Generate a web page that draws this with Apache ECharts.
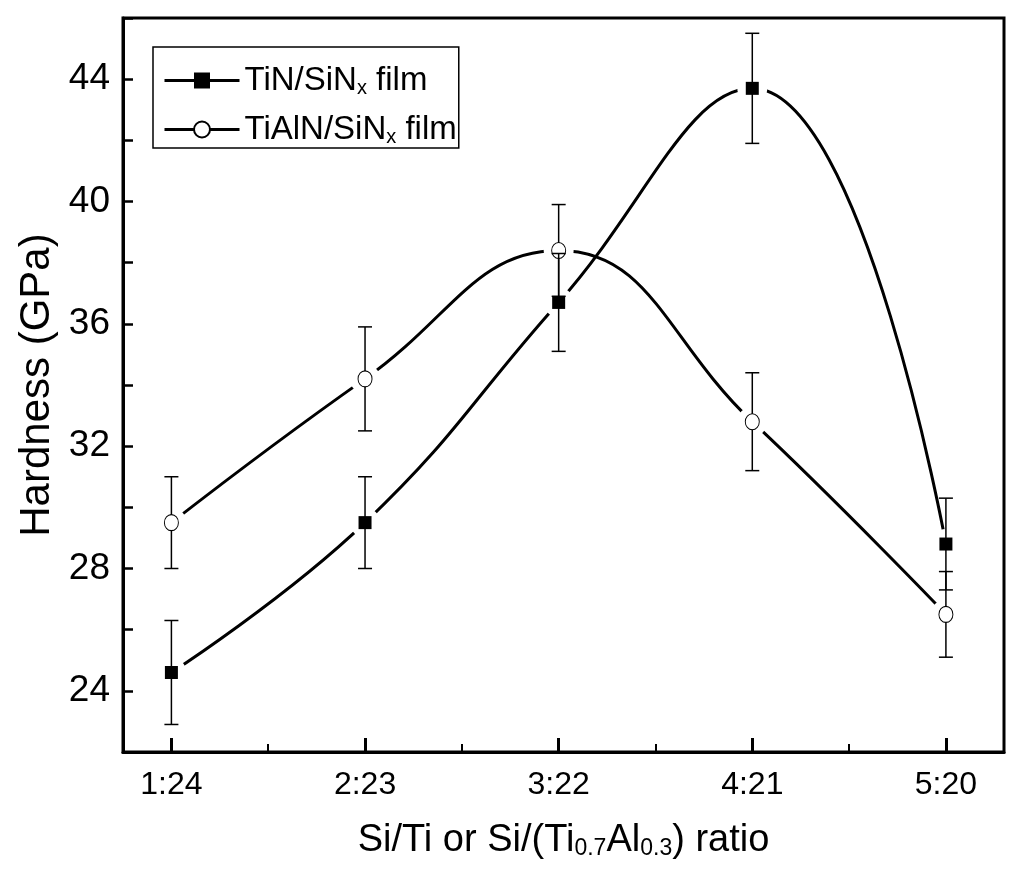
<!DOCTYPE html>
<html>
<head>
<meta charset="utf-8">
<script src="https://cdn.jsdelivr.net/npm/echarts@6/dist/echarts.min.js"></script>
<style>
html,body{margin:0;padding:0;background:#fff;}
#chart{width:1018px;height:869px;}
</style>
</head>
<body>
<div id="chart"></div>
<script>
// ---- data ----
const categories = ['1:24', '2:23', '3:22', '4:21', '5:20'];
const tinHardness = [24.6, 29.5, 36.7, 43.7, 28.8];
const tinError = [1.7, 1.5, 1.6, 1.8, 1.5];
const tialnHardness = [29.5, 34.2, 38.4, 32.8, 26.5];
const tialnError = [1.5, 1.7, 1.5, 1.6, 1.4];
const yTickLabels = [24, 28, 32, 36, 40, 44];
const seriesNames = ['TiN/SiNx film', 'TiAlN/SiNx film'];

const FONT = '"Liberation Sans", Arial, sans-serif';

const xs = categories.map((c, i) => i + 1);
const pts = (vals) => vals.map((v, i) => [xs[i], v]);
const errs = (vals, e) => vals.map((v, i) => [xs[i], v - e[i], v + e[i]]);
const minorX = xs.slice(0, -1).map(x => x + 0.5);

function errRender(params, api) {
  const x = api.value(0);
  const top = api.coord([x, api.value(2)]);
  const bot = api.coord([x, api.value(1)]);
  const hw = 7;
  const st = { stroke: '#000', lineWidth: 1.5 };
  return {
    type: 'group',
    children: [
      { type: 'line', shape: { x1: top[0], y1: top[1], x2: bot[0], y2: bot[1] }, style: st },
      { type: 'line', shape: { x1: top[0] - hw, y1: top[1], x2: top[0] + hw, y2: top[1] }, style: st },
      { type: 'line', shape: { x1: bot[0] - hw, y1: bot[1], x2: bot[0] + hw, y2: bot[1] }, style: st }
    ]
  };
}
// white gap around each marker (the curve is interrupted there)
function haloRender(r) {
  return function (params, api) {
    const p = api.coord([api.value(0), api.value(1)]);
    return { type: 'circle', shape: { cx: p[0], cy: p[1], r: r }, style: { fill: '#fff' } };
  };
}

const chart = echarts.init(document.getElementById('chart'), null, { renderer: 'canvas' });
const option = {
  backgroundColor: '#fff',
  animation: false,
  grid: {
    left: 123, right: 14, top: 18, bottom: 117,
    show: true, borderColor: '#000', borderWidth: 3, backgroundColor: 'transparent'
  },
  legend: {
    orient: 'vertical',
    left: 153, top: 47,
    padding: [16, 2, 1, 10],
    itemGap: 14,
    itemWidth: 75, itemHeight: 20,
    backgroundColor: '#fff',
    borderColor: '#000', borderWidth: 1.5, borderRadius: 0,
    data: seriesNames,
    lineStyle: { width: 3, color: '#000' },
    formatter: function (name) {
      return name.replace('SiNx', 'SiN{sub|x}');
    },
    textStyle: {
      fontFamily: FONT, fontSize: 33, color: '#000', lineHeight: 35,
      rich: { sub: { fontFamily: FONT, fontSize: 20, color: '#000', verticalAlign: 'bottom', lineHeight: 30 } }
    }
  },
  xAxis: [{
    type: 'value', min: 0.75, max: 5.3,
    position: 'bottom',
    axisLine: { show: true, lineStyle: { color: '#000', width: 3 } },
    axisTick: { show: true, inside: true, length: 14, lineStyle: { color: '#000', width: 3 }, customValues: xs },
    axisLabel: {
      customValues: xs, margin: 17, color: '#000', fontFamily: FONT, fontSize: 32,
      formatter: v => categories[Math.round(v) - 1] || ''
    },
    splitLine: { show: false },
    name: 'Si/Ti or Si/(Ti{sub|0.7}Al{sub|0.3}) ratio',
    nameLocation: 'middle', nameGap: 70,
    nameTextStyle: {
      fontFamily: FONT, fontSize: 38, color: '#000',
      rich: { sub: { fontFamily: FONT, fontSize: 23, color: '#000', verticalAlign: 'bottom', lineHeight: 37 } }
    }
  }, {
    type: 'value', min: 0.75, max: 5.3,
    position: 'bottom',
    axisLine: { show: false },
    axisTick: { show: true, inside: true, length: 8, lineStyle: { color: '#000', width: 2 }, customValues: minorX },
    axisLabel: { show: false },
    splitLine: { show: false }
  }],
  yAxis: {
    type: 'value', min: 22, max: 46, interval: 2,
    axisLine: { show: true, lineStyle: { color: '#000', width: 3 } },
    axisTick: { show: true, inside: true, length: 10, lineStyle: { color: '#000', width: 2.5 } },
    axisLabel: {
      margin: 13, color: '#000', fontFamily: FONT, fontSize: 37,
      formatter: v => (yTickLabels.indexOf(v) >= 0 ? String(v) : '')
    },
    splitLine: { show: false },
    name: 'Hardness (GPa)',
    nameLocation: 'middle', nameGap: 62, nameRotate: 90,
    nameTextStyle: { fontFamily: FONT, fontSize: 42, color: '#000' }
  },
  series: [
    {
      name: seriesNames[0], type: 'line', data: pts(tinHardness), smooth: 0.45,
      symbol: 'rect', symbolSize: 14, showSymbol: false, z: 1,
      lineStyle: { color: '#000', width: 3 }, itemStyle: { color: '#000' }
    },
    {
      name: seriesNames[1], type: 'line', data: pts(tialnHardness), smooth: 0.45,
      symbol: 'emptyCircle', symbolSize: 14, showSymbol: false, z: 1,
      lineStyle: { color: '#000', width: 3 }, itemStyle: { color: '#000', borderColor: '#000', borderWidth: 1 }
    },
    { type: 'custom', data: pts(tinHardness), renderItem: haloRender(15), z: 3, silent: true },
    { type: 'custom', data: pts(tialnHardness), renderItem: haloRender(15), z: 3, silent: true },
    { type: 'custom', data: errs(tialnHardness, tialnError), renderItem: errRender, z: 4, silent: true },
    {
      type: 'scatter', data: pts(tialnHardness), symbol: 'circle', symbolSize: [14, 16], z: 5, silent: true,
      itemStyle: { color: '#fff', borderColor: '#000', borderWidth: 1, opacity: 1 }
    },
    { type: 'custom', data: errs(tinHardness, tinError), renderItem: errRender, z: 6, silent: true },
    {
      type: 'scatter', data: pts(tinHardness), symbol: 'rect', symbolSize: 13, z: 7, silent: true,
      itemStyle: { color: '#000', opacity: 1 }
    }
  ]
};
chart.setOption(option);
</script>
</body>
</html>
